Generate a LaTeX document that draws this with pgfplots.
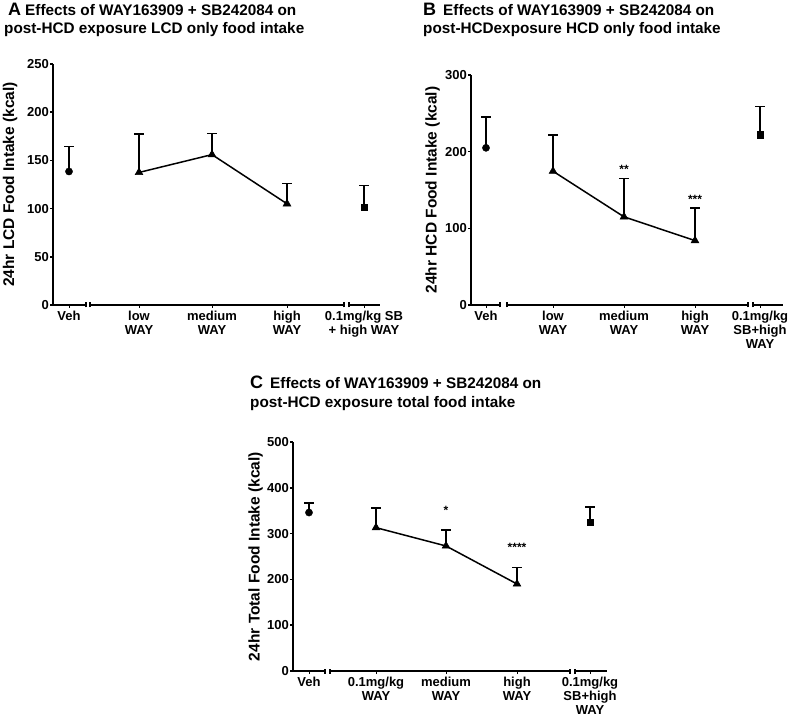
\documentclass[border=0pt]{standalone}
\usepackage{fontspec}
\setmainfont{Liberation Sans}
\usepackage{pgfplots}
\pgfplotsset{compat=1.18}

\pgfplotsset{
 panel/.style={
   scale only axis, clip=false,
   axis lines*=left,
   x axis line style={draw=none},
   y axis line style={line width=1.6pt, black},
   tick align=outside,
   major tick length=3pt,
   xtick style={line width=1pt, black},
   ytick style={line width=1.5pt, black},
   /pgf/number format/assume math mode=true,
   yticklabel style={font=\fontsize{13}{13}\selectfont\bfseries, inner sep=1pt},
   xticklabel style={font=\fontsize{13}{13.8}\selectfont\bfseries, align=center, anchor=north, inner sep=1pt, yshift=-2pt},
   ylabel style={font=\fontsize{15.5}{15.5}\selectfont\bfseries, anchor=center},
   anchor=south west,
 },
 errs/.style={error bars/.cd, y dir=plus, y explicit,
   error mark=|,
   error bar style={line width=1.8pt, black, solid},
   error mark options={line width=1.8pt, mark size=5pt, black}},
}
\tikzset{
 axseg/.style={line width=1.6pt, black},
 brkcap/.style={line width=1.2pt, black},
}
\newcommand{\tfont}{\fontsize{15.3}{15.3}\selectfont\bfseries}
\newcommand{\lfont}{\fontsize{18}{18}\selectfont\bfseries}
\newcommand{\sfont}{\fontsize{12}{12}\selectfont\bfseries}

\begin{document}
\begin{tikzpicture}
\useasboundingbox (0pt,0pt) rectangle (800pt,721pt);

% ---------- Titles ----------
\node[anchor=base west, inner sep=0] at (8pt,705pt) {\lfont A};
\node[anchor=base west, inner sep=0] at (25pt,705pt) {\tfont Effects of WAY163909 + SB242084 on};
\node[anchor=base west, inner sep=0] at (4pt,687.5pt) {\tfont post-HCD exposure LCD only food intake};
\node[anchor=base west, inner sep=0] at (423pt,705pt) {\lfont B};
\node[anchor=base west, inner sep=0] at (443pt,705pt) {\tfont Effects of WAY163909 + SB242084 on};
\node[anchor=base west, inner sep=0] at (423pt,687.5pt) {\tfont post-HCDexposure HCD only food intake};
\node[anchor=base west, inner sep=0] at (250pt,332.5pt) {\lfont C};
\node[anchor=base west, inner sep=0] at (270pt,332.5pt) {\tfont Effects of WAY163909 + SB242084 on};
\node[anchor=base west, inner sep=0] at (250pt,314pt) {\tfont post-HCD exposure total food intake};

% ---------- Panel A ----------
\begin{axis}[panel, at={(53pt,416pt)}, width=327pt, height=241pt,
  xmin=53, xmax=380, ymin=0, ymax=250, ytick={0,50,100,150,200,250},
  xtick={69,139,212,287,364},
  xticklabels={{Veh},{low\\WAY},{medium\\WAY},{high\\WAY},{0.1mg/kg SB\\+ high WAY}},
  ylabel={24hr LCD Food Intake (kcal)}, ylabel style={at={(axis description cs:-0.1315,0.5)}}]
\addplot[black, only marks, mark=*, mark size=3.6pt, errs] coordinates {(69,138.5) +- (0,26)};
\addplot[black, line width=1.5pt, mark=triangle*, mark size=4.5pt, mark options={solid, line width=0.5pt}, errs]
  coordinates {(139,137.5) +- (0,40) (212,156) +- (0,22) (287,105) +- (0,21)};
\addplot[black, only marks, mark=square*, mark size=3.2pt, errs] coordinates {(364,101.5) +- (0,22.5)};
\draw[axseg] (axis cs:53,0) -- (axis cs:86,0);
\draw[axseg] (axis cs:90,0) -- (axis cs:344,0);
\draw[axseg] (axis cs:349,0) -- (axis cs:380,0);
\draw[brkcap] ([yshift=-2.5pt]axis cs:86,0) -- ([yshift=2.5pt]axis cs:86,0);
\draw[brkcap] ([yshift=-2.5pt]axis cs:90,0) -- ([yshift=2.5pt]axis cs:90,0);
\draw[brkcap] ([yshift=-2.5pt]axis cs:344,0) -- ([yshift=2.5pt]axis cs:344,0);
\draw[brkcap] ([yshift=-2.5pt]axis cs:349,0) -- ([yshift=2.5pt]axis cs:349,0);
\end{axis}

% ---------- Panel B ----------
\begin{axis}[panel, at={(471pt,416pt)}, width=312pt, height=230pt,
  xmin=471, xmax=783, ymin=0, ymax=300, ytick={0,100,200,300},
  xtick={486,553,624,695,760},
  xticklabels={{Veh},{low\\WAY},{medium\\WAY},{high\\WAY},{0.1mg/kg\\SB+high\\WAY}},
  ylabel={24hr HCD Food Intake (kcal)}, ylabel style={at={(axis description cs:-0.1234,0.5)}}]
\addplot[black, only marks, mark=*, mark size=3.6pt, errs] coordinates {(486,205) +- (0,40.5)};
\addplot[black, line width=1.5pt, mark=triangle*, mark size=4.5pt, mark options={solid, line width=0.5pt}, errs]
  coordinates {(553,174.5) +- (0,47) (624,115) +- (0,50) (695,84) +- (0,43)};
\addplot[black, only marks, mark=square*, mark size=3.2pt, errs] coordinates {(760,222) +- (0,37)};
\node[font=\sfont, yshift=-2pt] at (axis cs:624,180) {**};
\node[font=\sfont, yshift=-2pt] at (axis cs:695,141) {***};
\draw[axseg] (axis cs:471,0) -- (axis cs:500,0);
\draw[axseg] (axis cs:507,0) -- (axis cs:748,0);
\draw[axseg] (axis cs:753,0) -- (axis cs:783,0);
\draw[brkcap] ([yshift=-2.5pt]axis cs:500,0) -- ([yshift=2.5pt]axis cs:500,0);
\draw[brkcap] ([yshift=-2.5pt]axis cs:507,0) -- ([yshift=2.5pt]axis cs:507,0);
\draw[brkcap] ([yshift=-2.5pt]axis cs:748,0) -- ([yshift=2.5pt]axis cs:748,0);
\draw[brkcap] ([yshift=-2.5pt]axis cs:753,0) -- ([yshift=2.5pt]axis cs:753,0);
\end{axis}

% ---------- Panel C ----------
\begin{axis}[panel, at={(293pt,50pt)}, width=314pt, height=229pt,
  xmin=293, xmax=607, ymin=0, ymax=500, ytick={0,100,200,300,400,500},
  xtick={309,376,446,517,590},
  xticklabels={{Veh},{0.1mg/kg\\WAY},{medium\\WAY},{high\\WAY},{0.1mg/kg\\SB+high\\WAY}},
  ylabel={24hr Total Food Intake (kcal)}, ylabel style={at={(axis description cs:-0.1194,0.5)}}]
\addplot[black, only marks, mark=*, mark size=3.6pt, errs] coordinates {(309,346) +- (0,21)};
\addplot[black, line width=1.5pt, mark=triangle*, mark size=4.5pt, mark options={solid, line width=0.5pt}, errs]
  coordinates {(376,313) +- (0,43) (446,273) +- (0,34) (517,190) +- (0,36)};
\addplot[black, only marks, mark=square*, mark size=3.2pt, errs] coordinates {(590,325) +- (0,33)};
\node[font=\sfont, yshift=-2pt] at (axis cs:446,356) {*};
\node[font=\sfont, yshift=-2pt] at (axis cs:517,275) {****};
\draw[axseg] (axis cs:293,0) -- (axis cs:325,0);
\draw[axseg] (axis cs:330,0) -- (axis cs:570,0);
\draw[axseg] (axis cs:575,0) -- (axis cs:607,0);
\draw[brkcap] ([yshift=-2.5pt]axis cs:325,0) -- ([yshift=2.5pt]axis cs:325,0);
\draw[brkcap] ([yshift=-2.5pt]axis cs:330,0) -- ([yshift=2.5pt]axis cs:330,0);
\draw[brkcap] ([yshift=-2.5pt]axis cs:570,0) -- ([yshift=2.5pt]axis cs:570,0);
\draw[brkcap] ([yshift=-2.5pt]axis cs:575,0) -- ([yshift=2.5pt]axis cs:575,0);
\end{axis}
\end{tikzpicture}
\end{document}
